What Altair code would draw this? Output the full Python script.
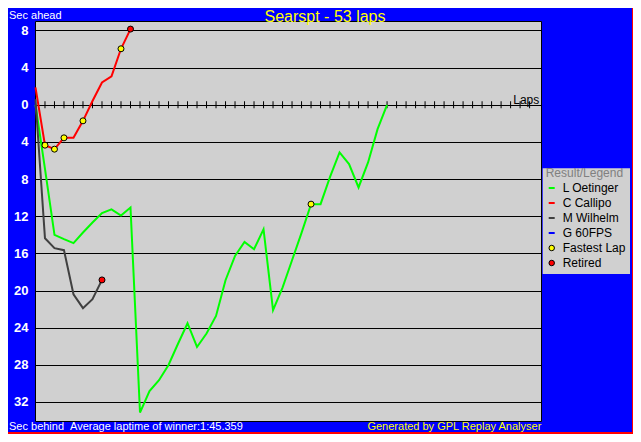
import altair as alt
import pandas as pd

# ---------------- data ----------------
drivers = ["L Oetinger", "C Callipo", "M Wilhelm", "G 60FPS"]
driver_colors = ["#00ff00", "#ff0000", "#404040", "#0000ff"]

# seconds ahead (+) / behind (-) of the winner's average pace, lap 0..n
oetinger_gap = [0.0, -6.9, -14.01, -14.47, -14.90, -13.75, -12.67, -11.67, -11.27,
                -11.92, -11.06, -33.14, -30.82, -29.66, -28.01, -25.73, -23.52,
                -26.08, -24.63, -22.74, -18.89, -16.27, -14.76, -15.55, -13.40,
                -22.12, -19.68, -16.74, -13.80, -10.70, -10.70, -7.77, -5.13,
                -6.39, -8.90, -6.21, -2.62, 0.0]
callipo_gap = [1.87, -4.35, -4.78, -3.56, -3.56, -1.73, 0.4, 2.40, 3.05, 6.03, 8.15]
wilhelm_gap = [0.6, -14.37, -15.44, -15.66, -20.4, -21.9, -20.94, -18.86]
g60fps_gap = []

fastest_driver = ["C Callipo", "C Callipo", "C Callipo", "C Callipo", "C Callipo", "L Oetinger"]
fastest_lap = [1, 2, 3, 5, 9, 29]
retired_driver = ["C Callipo", "M Wilhelm"]
retired_lap = [10, 7]

marker_kinds = ["Fastest Lap", "Retired"]
marker_colors = ["#ffff00", "#ff0000"]

lap_ticks = list(range(1, 53))
gap_ticks = [8, 4, 0, -4, -8, -12, -16, -20, -24, -28, -32]

title_text = "Searspt - 53 laps"
ahead_text = "Sec ahead"
behind_text = "Sec behind"
winner_text = "Average laptime of winner:1:45.359"
credit_text = "Generated by GPL Replay Analyser"
laps_text = "Laps"

# ---------------- tables ----------------
series = {"L Oetinger": oetinger_gap, "C Callipo": callipo_gap,
          "M Wilhelm": wilhelm_gap, "G 60FPS": g60fps_gap}
line_rows = [{"driver": d, "lap": i, "gap": g}
             for d, gaps in series.items() for i, g in enumerate(gaps)]
lines_df = pd.DataFrame(line_rows, columns=["driver", "lap", "gap"])

marker_rows = []
for d, l in zip(fastest_driver, fastest_lap):
    marker_rows.append({"driver": d, "lap": l, "gap": series[d][l], "kind": "Fastest Lap"})
for d, l in zip(retired_driver, retired_lap):
    marker_rows.append({"driver": d, "lap": l, "gap": series[d][l], "kind": "Retired"})
markers_df = pd.DataFrame(marker_rows)

ticks_df = pd.DataFrame({"lap": lap_ticks, "gap": [0] * len(lap_ticks)})

FONT = "Liberation Sans"

x_enc = alt.X("lap:Q", scale=alt.Scale(domain=[-0.05, 53.2], nice=False, zero=False), axis=None)
y_axis = alt.Axis(values=gap_ticks, labelExpr="'' + abs(datum.value)", domain=False,
                  ticks=False, grid=True, gridColor="black", gridOpacity=1, gridWidth=1,
                  labelColor="white", labelFont=FONT, labelFontSize=13,
                  labelFontWeight="bold", labelPadding=7, title=None)
y_enc = alt.Y("gap:Q", scale=alt.Scale(domain=[-34.05, 9.02], nice=False, zero=False),
              axis=y_axis)

one = pd.DataFrame({"k": [0]})

legend_bg = alt.Chart(one).mark_rect(color="#d0d0d0").encode(
    x=alt.value(507.7), x2=alt.value(595), y=alt.value(147.3), y2=alt.value(253))

zero_ticks = alt.Chart(ticks_df).mark_tick(
    orient="vertical", color="black", thickness=1, size=7, opacity=1
).encode(x=x_enc, y=y_enc)

lines = alt.Chart(lines_df).mark_line(strokeWidth=2).encode(
    x=x_enc, y=y_enc,
    color=alt.Color("driver:N",
                    scale=alt.Scale(domain=drivers, range=driver_colors),
                    legend=alt.Legend(title="Result/Legend", orient="none",
                                      legendX=510.7, legendY=147, padding=0,
                                      symbolType="stroke", symbolSize=36,
                                      symbolStrokeWidth=2, labelFont=FONT,
                                      labelFontSize=12, labelColor="black",
                                      titleFont=FONT, titleFontSize=12,
                                      titleColor="#808080", titleFontWeight="normal",
                                      titlePadding=2, rowPadding=3, labelOffset=5)),
)

markers = alt.Chart(markers_df).mark_circle(
    size=36, stroke="black", strokeWidth=1, opacity=1
).encode(
    x=x_enc, y=y_enc,
    fill=alt.Fill("kind:N",
                  scale=alt.Scale(domain=marker_kinds, range=marker_colors),
                  legend=alt.Legend(title=None, orient="none", legendX=510.7,
                                    legendY=221, padding=0, symbolType="circle",
                                    symbolSize=30, symbolStrokeColor="black",
                                    symbolStrokeWidth=1, symbolOpacity=1,
                                    labelFont=FONT, labelFontSize=12,
                                    labelColor="black", rowPadding=3, labelOffset=5)),
)


def label(text, x, y, color, size, align="left", baseline="middle"):
    return alt.Chart(pd.DataFrame({"t": [text]})).mark_text(
        align=align, baseline=baseline, color=color, fontSize=size, font=FONT
    ).encode(text="t:N", x=alt.value(x), y=alt.value(y))


texts = [
    label(title_text, 290, -12.5, "#ffff00", 16, "center", "top"),
    label(ahead_text, -26, -5, "white", 11),
    label(behind_text, -26, 406, "white", 11),
    label(winner_text, 35, 406, "white", 11),
    label(credit_text, 506.3, 406, "#ffff00", 11, "right"),
    label(laps_text, 504.3, 83, "black", 12, "right", "alphabetic"),
]

border_right = alt.Chart(one).mark_rule(color="#ff0000", strokeWidth=1).encode(
    x=alt.value(597.5), y=alt.value(-13), y2=alt.value(413))
border_bottom = alt.Chart(one).mark_rule(color="#ff0000", strokeWidth=2).encode(
    x=alt.value(-27), x2=alt.value(598), y=alt.value(412))

chart = alt.layer(
    legend_bg, zero_ticks, lines, markers, *texts, border_right, border_bottom
).properties(
    width=506, height=400,
    padding={"left": 27, "top": 13, "right": 92, "bottom": 13},
    autosize=alt.AutoSizeParams(type="none"),
    background="#0000ff",
).configure_view(fill="#d0d0d0", stroke="black", strokeWidth=1)

chart.save("out.html", embed_options={"renderer": "svg", "actions": False})
